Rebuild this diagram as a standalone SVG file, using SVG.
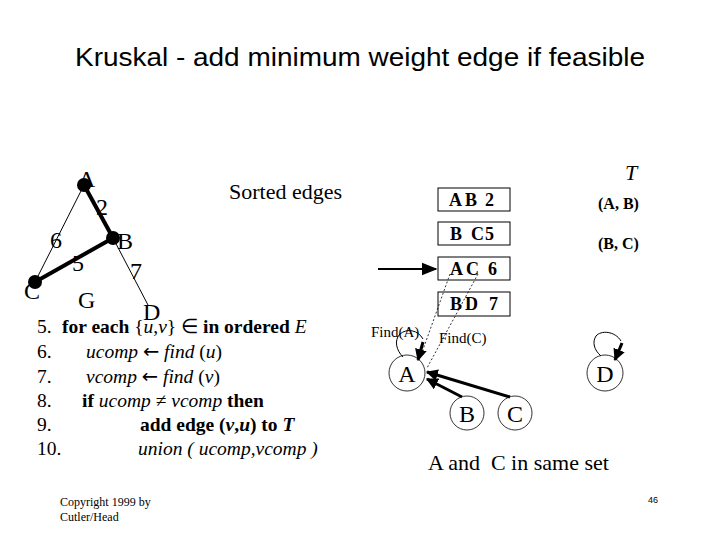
<svg xmlns="http://www.w3.org/2000/svg" width="720" height="540" viewBox="0 0 720 540">
<defs>
<style>
.t{font-family:"Liberation Serif","Times New Roman",serif;fill:#000}
.s{font-family:"Liberation Sans",Arial,sans-serif;fill:#000}
.b{font-weight:bold}
.i{font-style:italic}
.ar{font-family:"DejaVu Sans",sans-serif;font-style:normal}
.box{fill:#fff;stroke:#000;stroke-width:1}
.node{fill:#fff;stroke:#000;stroke-width:0.8}
.thin{stroke:#000;stroke-width:1;fill:none}
.thick{stroke:#000;stroke-width:4;fill:none}
.arr{stroke:#000;stroke-width:3;fill:none}
.dot{stroke:#000;stroke-width:0.8;stroke-dasharray:2 2;fill:none}
</style>
<marker id="ah" viewBox="0 0 10 10" refX="9" refY="5" markerWidth="4" markerHeight="4" orient="auto" markerUnits="strokeWidth"><path d="M0,0 L10,5 L0,10 z" fill="#000"/></marker>
<marker id="ah2" viewBox="0 0 10 10" refX="9" refY="5" markerWidth="8" markerHeight="8" orient="auto" markerUnits="strokeWidth"><path d="M0,1 L10,5 L0,9 z" fill="#000"/></marker>
</defs>
<rect width="720" height="540" fill="#fff"/>
<text class="s" x="75" y="66" font-size="26" textLength="570" lengthAdjust="spacingAndGlyphs">Kruskal - add minimum weight edge if feasible</text>

<!-- graph G -->
<g id="graph-edges">
<line class="thin" x1="84" y1="185" x2="35" y2="282"/>
<line class="thin" x1="113" y1="238" x2="148" y2="305"/>
<line class="thick" x1="84" y1="185" x2="113" y2="238"/>
<line class="thick" x1="113" y1="238" x2="35" y2="282"/>
</g>
<g id="gA"><circle cx="84" cy="185" r="7" fill="#000"/><text class="t" x="78" y="187" font-size="24">A</text></g>
<g id="gB"><circle cx="113" cy="238" r="7" fill="#000"/><text class="t" x="117" y="249" font-size="24">B</text></g>
<g id="gC"><circle cx="35" cy="282" r="7" fill="#000"/><text class="t" x="24" y="299" font-size="24">C</text></g>
<g id="gD"><text class="t" x="143" y="320" font-size="24">D</text></g>
<text class="t" x="96" y="215" font-size="24">2</text>
<text class="t" x="50" y="248" font-size="24">6</text>
<text class="t" x="72" y="271" font-size="24">5</text>
<text class="t" x="130" y="279" font-size="24">7</text>
<text class="t" x="78" y="308" font-size="24">G</text>

<text class="t" x="229" y="199" font-size="22">Sorted edges</text>

<!-- sorted edge boxes -->
<g id="e1"><rect class="box" x="438" y="188" width="72" height="23"/><text class="t b" y="206" font-size="18"><tspan x="449">A</tspan><tspan x="465">B</tspan><tspan x="485">2</tspan></text></g>
<g id="e2"><rect class="box" x="438" y="222" width="72" height="23"/><text class="t b" y="240" font-size="18"><tspan x="450">B</tspan><tspan x="471">C</tspan><tspan x="485">5</tspan></text></g>
<g id="e3"><rect class="box" x="438" y="257" width="72" height="23"/><text class="t b" y="275" font-size="18"><tspan x="450">A</tspan><tspan x="466">C</tspan><tspan x="488">6</tspan></text></g>
<g id="e4"><rect class="box" x="438" y="292" width="72" height="24"/><text class="t b" y="310" font-size="18"><tspan x="450">B</tspan><tspan x="465">D</tspan><tspan x="489">7</tspan></text></g>

<text class="t i" x="625" y="180" font-size="22">T</text>
<text class="t b" x="598" y="209" font-size="16">(A, B)</text>
<text class="t b" x="598" y="249" font-size="16">(B, C)</text>

<!-- union-find nodes -->
<g id="uA"><circle class="node" cx="407" cy="373" r="18"/><text class="t" x="407" y="382" font-size="24" text-anchor="middle">A</text></g>
<g id="uB"><circle class="node" cx="467" cy="413" r="17"/><text class="t" x="467" y="422" font-size="24" text-anchor="middle">B</text></g>
<g id="uC"><circle class="node" cx="515" cy="413" r="17"/><text class="t" x="515" y="422" font-size="24" text-anchor="middle">C</text></g>
<g id="uD"><circle class="node" cx="605" cy="373" r="18"/><text class="t" x="605" y="382" font-size="24" text-anchor="middle">D</text></g>

<g id="connectors">
<line x1="378" y1="269" x2="436" y2="269" stroke="#000" stroke-width="2" marker-end="url(#ah2)"/>
<line class="arr" x1="462" y1="397" x2="427" y2="379" marker-end="url(#ah)"/>
<line class="arr" x1="510" y1="397" x2="427" y2="372" marker-end="url(#ah)"/>
<path class="thin" d="M403,357 C396,350 394,340 400,334 C407,328 418,330 423,339"/>
<line class="arr" x1="423" y1="342" x2="418" y2="360" marker-end="url(#ah)"/>
<path class="thin" d="M601,356 C594,350 592,342 596,336 C601,330 615,331 621,341"/>
<line class="arr" x1="622" y1="343" x2="615" y2="360" marker-end="url(#ah)"/>
<line class="dot" x1="450" y1="274" x2="420" y2="358"/>
<line class="dot" x1="478" y1="274" x2="427" y2="368"/>
</g>
<text class="t" x="371" y="337" font-size="15">Find(A)</text>
<text class="t" x="439" y="343" font-size="15">Find(C)</text>

<text class="t" x="428" y="470" font-size="22" xml:space="preserve">A and  C in same set</text>

<!-- pseudocode -->
<g class="t" font-size="19.5">
<text x="37" y="333">5.</text><text x="62" y="333"><tspan class="b">for each</tspan> {<tspan class="i">u</tspan>,<tspan class="i">v</tspan>} ∈ <tspan class="b">in ordered</tspan> <tspan class="i">E</tspan></text>
<text x="37" y="358">6.</text><text x="86" y="358"><tspan class="i">ucomp</tspan> <tspan class="ar">←</tspan> <tspan class="i">find</tspan> (<tspan class="i">u</tspan>)</text>
<text x="37" y="383">7.</text><text x="86" y="383"><tspan class="i">vcomp</tspan> <tspan class="ar">←</tspan> <tspan class="i">find</tspan> (<tspan class="i">v</tspan>)</text>
<text x="37" y="407">8.</text><text x="82" y="407"><tspan class="b">if</tspan> <tspan class="i">ucomp</tspan> ≠ <tspan class="i">vcomp</tspan> <tspan class="b">then</tspan></text>
<text x="37" y="431">9.</text><text x="140" y="431" class="b">add edge (<tspan class="i">v</tspan>,<tspan class="i">u</tspan>) to <tspan class="i">T</tspan></text>
<text x="37" y="455">10.</text><text x="138" y="455" class="i">union ( ucomp,vcomp )</text>
</g>

<text class="t" x="60" y="506" font-size="12">Copyright 1999 by</text>
<text class="t" x="60" y="521" font-size="12">Cutler/Head</text>
<text class="s" x="648" y="503" font-size="9">46</text>
</svg>
